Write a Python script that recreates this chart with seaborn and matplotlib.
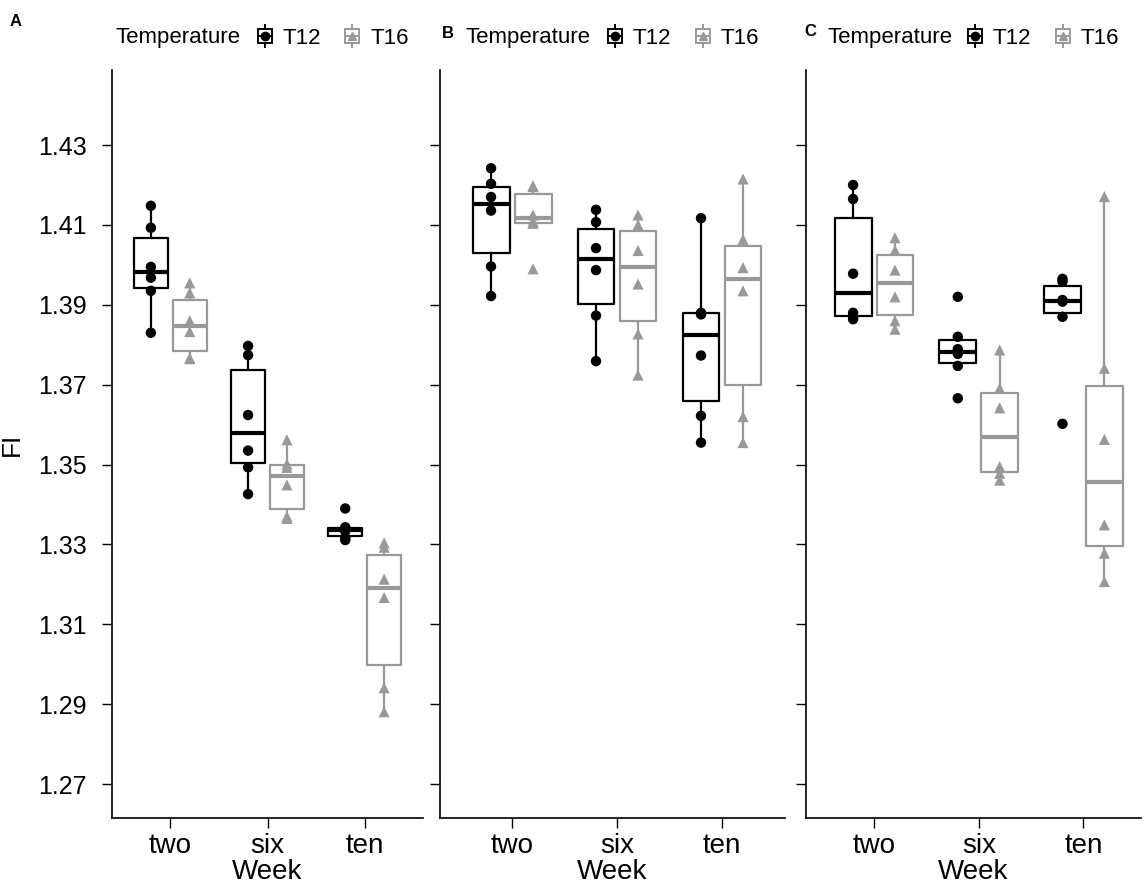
import pandas as pd
import matplotlib
matplotlib.use("Agg")
import matplotlib.pyplot as plt
import seaborn as sns
from matplotlib.lines import Line2D
from matplotlib.legend_handler import HandlerTuple

# categories
weeks = ["two", "six", "ten"]
temps = ["T12", "T16"]
panels = ["A", "B", "C"]

# FI values, 6 fish per group
# panel A
a_t12 = {"two": [1.3830, 1.3935, 1.3968, 1.3995, 1.4093, 1.4148],
         "six": [1.3426, 1.3493, 1.3535, 1.3624, 1.3774, 1.3797],
         "ten": [1.3311, 1.3316, 1.3333, 1.3339, 1.3343, 1.3390]}
a_t16 = {"two": [1.3765, 1.3767, 1.3833, 1.3860, 1.3930, 1.3955],
         "six": [1.3365, 1.3370, 1.3449, 1.3493, 1.3501, 1.3562],
         "ten": [1.2881, 1.2941, 1.3167, 1.3213, 1.3293, 1.3304]}
# panel B
b_t12 = {"two": [1.3922, 1.3996, 1.4136, 1.4170, 1.4203, 1.4242],
         "six": [1.3759, 1.3873, 1.3987, 1.4042, 1.4107, 1.4138],
         "ten": [1.3555, 1.3622, 1.3773, 1.3876, 1.3880, 1.4117]}
b_t16 = {"two": [1.3990, 1.4104, 1.4109, 1.4125, 1.4196, 1.4198],
         "six": [1.3724, 1.3827, 1.3952, 1.4036, 1.4100, 1.4125],
         "ten": [1.3555, 1.3620, 1.3935, 1.3993, 1.4064, 1.4215]}
# panel C
c_t12 = {"two": [1.3864, 1.3870, 1.3880, 1.3978, 1.4165, 1.4200],
         "six": [1.3666, 1.3747, 1.3777, 1.3789, 1.3820, 1.3920],
         "ten": [1.3602, 1.3870, 1.3908, 1.3912, 1.3958, 1.3965]}
c_t16 = {"two": [1.3839, 1.3860, 1.3920, 1.3987, 1.4037, 1.4068],
         "six": [1.3461, 1.3478, 1.3495, 1.3642, 1.3691, 1.3787],
         "ten": [1.3207, 1.3278, 1.3349, 1.3563, 1.3741, 1.4171]}

yticks = [1.27, 1.29, 1.31, 1.33, 1.35, 1.37, 1.39, 1.41, 1.43]

rows = []
for p, t12, t16 in zip(panels, [a_t12, b_t12, c_t12], [a_t16, b_t16, c_t16]):
    for t, vals in zip(temps, [t12, t16]):
        for w in weeks:
            for v in vals[w]:
                rows.append({"panel": p, "Week": w, "Temperature": t, "FI": v})
df = pd.DataFrame(rows)

pal = {"T12": "black", "T16": "#999999"}
shapes = {"T12": "o", "T16": "^"}

sns.set_theme(style="ticks")
plt.rcParams["font.family"] = ["Liberation Sans", "DejaVu Sans"]
for k in ["text.color", "axes.labelcolor", "xtick.color", "ytick.color", "axes.edgecolor"]:
    plt.rcParams[k] = "black"

W, H = 1144, 886
fig = plt.figure(figsize=(W / 100, H / 100), dpi=100)

# axes boxes in pixels: left, right, xlim
top_px, bot_px = 70, 818
boxes = {"A": (112, 423, (-0.6, 2.6)),
         "B": (440, 785, (-0.686, 2.6)),
         "C": (806, 1141, (-0.65, 2.55))}
ylim = (1.2615, 1.4488)

# legend / label positions in pixels
title_x = {"A": 115, "B": 466, "C": 827}
leg_x = {"A": 254, "B": 604, "C": 964}
letter_pos = {"A": (10, 21), "B": (442, 34), "C": (804, 32)}

for p in panels:
    l, r, xl = boxes[p]
    ax = fig.add_axes([l / W, 1 - bot_px / H, (r - l) / W, (bot_px - top_px) / H])
    d = df[df.panel == p]
    sns.boxplot(data=d, x="Week", y="FI", hue="Temperature", order=weeks,
                hue_order=temps, palette=pal, fill=False, width=0.8, gap=0.12,
                showcaps=False, showfliers=False, linewidth=1.6,
                medianprops={"linewidth": 3}, legend=False, ax=ax)
    for t in temps:
        sns.stripplot(data=d[d.Temperature == t], x="Week", y="FI",
                      hue="Temperature", order=weeks, hue_order=temps,
                      palette=pal, dodge=True, jitter=False, marker=shapes[t],
                      size=8 if t == "T16" else 7.5, linewidth=0, legend=False, ax=ax)
    ax.set_xlim(*xl)
    ax.set_ylim(*ylim)
    ax.set_yticks(yticks)
    sns.despine(ax=ax)
    for s in ["left", "bottom"]:
        ax.spines[s].set_linewidth(1.2)
    ax.tick_params(axis="both", length=7, width=1)
    ax.tick_params(axis="x", labelsize=20, pad=4)
    ax.tick_params(axis="y", labelsize=18, pad=11)
    ax.set_xlabel("Week", fontsize=20, labelpad=0)
    if p == "A":
        ax.set_ylabel("FI", fontsize=19, labelpad=10)
        ax.set_yticklabels([f"{v:.2f}" for v in yticks])
    else:
        ax.set_ylabel("")
        ax.set_yticklabels([])

    # legend on top: title on the left, then boxplot keys
    fig.text(title_x[p] / W, 1 - 38 / H, "Temperature", fontsize=16,
             va="center", ha="left")
    handles = []
    for t in temps:
        c = pal[t]
        handles.append((
            Line2D([], [], color=c, marker="|", markersize=17, mew=1.4, linestyle="None"),
            Line2D([], [], color=c, marker="s", markersize=10, mfc="white", mec=c, mew=1.4, linestyle="None"),
            Line2D([], [], color=c, marker="_", markersize=10, mew=1.4, linestyle="None"),
            Line2D([], [], color=c, marker=shapes[t], markersize=6, linestyle="None"),
        ))
    ax.legend(handles, temps, handler_map={tuple: HandlerTuple(ndivide=1)},
              loc="center left", bbox_to_anchor=(leg_x[p] / W, 1 - 38 / H),
              bbox_transform=fig.transFigure, ncol=2, frameon=False,
              fontsize=16, handlelength=1.0, handletextpad=0.3,
              columnspacing=0.9, borderpad=0, borderaxespad=0)

    lx, ly = letter_pos[p]
    fig.text(lx / W, 1 - ly / H, p, fontsize=12, fontweight="bold",
             va="center", ha="left")

fig.savefig("out.png", dpi=100)
